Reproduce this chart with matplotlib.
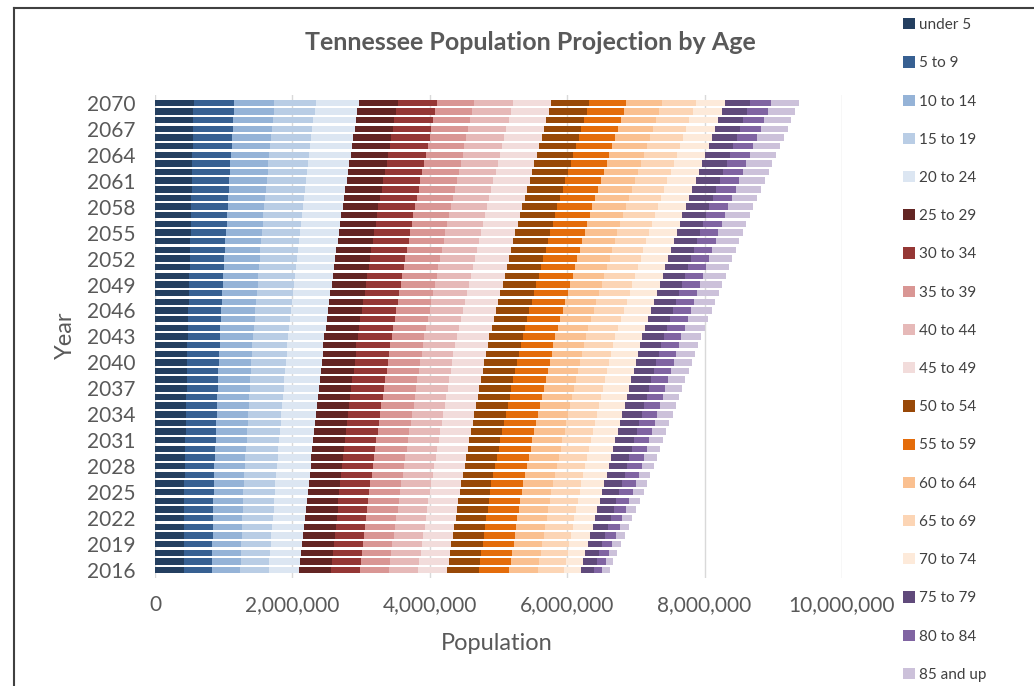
import matplotlib
matplotlib.use("Agg")
import matplotlib.pyplot as plt
from matplotlib.lines import Line2D
from matplotlib.ticker import FuncFormatter

plt.rcParams['font.family'] = ['Lato', 'DejaVu Sans']

years = list(range(2016, 2071))
age_groups = ["under 5", "5 to 9", "10 to 14", "15 to 19", "20 to 24",
              "25 to 29", "30 to 34", "35 to 39", "40 to 44", "45 to 49",
              "50 to 54", "55 to 59", "60 to 64", "65 to 69", "70 to 74",
              "75 to 79", "80 to 84", "85 and up"]
colors = ["#243F60", "#376092", "#95B3D7", "#B9CDE5", "#DCE6F2",
          "#632523", "#953735", "#D99694", "#E6B9B8", "#F2DCDB",
          "#984807", "#E46C0A", "#FAC090", "#FCD5B5", "#FDEADA",
          "#604A7B", "#8064A2", "#CCC1DA"]

# population in thousands, 2016 .. 2070
under_5 = [419,420,421,422,423,424,425,426,427,428,429,
           432,435,437,440,443,446,448,451,454,457,459,462,465,468,470,473,476,
           479,483,486,490,493,497,500,503,507,510,514,517,521,524,
           527,530,533,536,539,542,545,548,551,554,557,560,563]
age_5_9 = [408,410,412,413,415,417,419,421,422,424,426,
           429,431,434,436,439,441,444,446,449,451,454,456,459,461,464,466,469,
           473,477,481,485,489,493,497,500,504,508,512,516,520,524,
           529,535,540,546,551,556,562,567,572,578,583,589,594]
age_10_14 = [413,415,418,420,423,425,427,430,432,435,437,
             440,442,445,448,450,453,456,459,461,464,467,469,472,475,478,480,483,
             486,490,493,496,500,503,506,510,513,517,520,523,527,530,
             534,538,542,546,550,554,558,562,566,570,574,578,582]
age_15_19 = [416,421,425,430,434,439,443,448,452,457,461,
             464,467,469,472,475,478,481,484,486,489,492,495,498,501,503,506,509,
             512,516,519,523,526,530,533,536,540,543,547,550,554,557,
             560,564,567,570,574,577,580,583,587,590,593,597,600]
age_20_24 = [447,451,455,458,462,466,470,474,477,481,485,
             488,490,493,496,498,501,504,506,509,512,514,517,520,522,525,527,530,
             533,537,540,543,546,550,553,556,560,563,566,569,573,576,
             580,584,588,591,595,599,603,607,611,614,618,622,626]
age_25_29 = [466,465,464,463,462,462,461,460,459,458,457,
             459,460,462,463,465,466,468,469,471,472,474,475,477,478,480,481,483,
             486,488,491,493,496,498,501,503,506,508,511,513,516,518,
             522,526,530,534,538,542,546,549,553,557,561,565,569]
age_30_34 = [418,420,422,424,426,428,429,431,433,435,437,
             440,444,447,450,453,457,460,463,467,470,473,476,480,483,486,490,493,
             496,498,501,503,506,508,511,513,516,518,521,523,526,528,
             531,535,538,541,545,548,551,554,558,561,564,568,571]
age_35_39 = [416,420,423,427,430,434,437,441,444,448,451,
             453,454,456,458,459,461,463,464,466,468,469,471,473,474,476,477,479,
             482,485,487,490,493,496,499,501,504,507,510,513,515,518,
             520,522,524,526,528,530,532,534,536,538,540,542,544]
age_40_44 = [422,424,425,427,428,430,431,433,434,436,437,
             439,441,442,444,446,448,449,451,453,455,456,458,460,462,463,465,467,
             471,475,479,483,487,491,495,500,504,508,512,516,520,524,
             527,530,533,536,539,542,545,548,551,554,557,560,563]
age_45_49 = [428,429,430,431,432,433,433,434,435,436,437,
             439,442,444,447,449,452,454,457,459,462,464,467,469,472,474,477,479,
             481,484,486,488,491,493,496,498,500,503,505,507,510,512,
             515,519,522,526,529,533,536,540,543,547,550,554,557]
age_50_54 = [460,458,455,453,451,449,446,444,442,439,437,
             440,442,445,448,450,453,456,459,461,464,467,469,472,475,478,480,483,
             485,486,488,490,492,493,495,497,498,500,502,503,505,507,
             510,514,517,521,524,528,531,535,538,542,545,549,552]
age_55_59 = [447,448,450,451,452,454,455,456,457,459,460,
             461,462,463,464,465,466,467,468,469,470,471,472,473,474,475,476,477,
             479,481,483,486,488,490,492,494,496,498,501,503,505,507,
             510,512,515,517,520,522,525,527,530,532,535,537,540]
age_60_64 = [408,411,414,417,420,423,425,428,431,434,437,
             437,438,438,438,438,439,439,439,440,440,440,440,441,441,441,442,442,
             445,448,451,454,457,460,463,465,468,471,474,477,480,483,
             485,488,490,493,495,497,500,502,505,507,509,512,514]
age_65_69 = [386,389,391,394,397,400,402,405,408,410,413,
             414,415,416,417,418,419,420,421,423,424,425,426,427,428,429,430,431,
             434,436,439,441,444,446,449,451,454,456,459,461,464,466,
             468,471,473,475,478,480,482,484,487,489,491,494,496]
age_70_74 = [240,250,260,270,280,290,299,309,319,329,339,
             342,345,348,351,355,358,361,364,367,370,373,376,380,383,386,389,392,
             393,394,394,395,396,397,398,398,399,400,401,402,402,403,
             405,407,409,411,413,415,417,419,421,423,425,427,429]
age_75_79 = [189,196,203,210,217,224,230,237,244,251,258,
             261,264,267,270,274,277,280,283,286,289,292,295,299,302,305,308,311,
             313,316,318,321,323,326,328,330,333,335,338,340,343,345,
             347,348,350,352,353,355,357,359,360,362,364,365,367]
age_80_84 = [124,132,140,148,156,164,172,180,188,196,204,
             207,210,214,217,220,223,227,230,233,236,240,243,246,249,253,256,259,
             260,261,262,262,263,264,265,266,267,268,268,269,270,271,
             274,276,279,282,284,287,290,293,295,298,301,303,306]
age_85_up = [109,114,119,124,129,135,140,145,150,155,160,
             167,175,182,190,197,205,212,220,227,235,242,250,257,265,272,280,287,
             292,298,303,308,314,319,325,330,335,341,346,351,357,362,
             365,368,371,374,377,380,382,385,388,391,394,397,400]

series = [under_5, age_5_9, age_10_14, age_15_19, age_20_24, age_25_29,
          age_30_34, age_35_39, age_40_44, age_45_49, age_50_54, age_55_59,
          age_60_64, age_65_69, age_70_74, age_75_79, age_80_84, age_85_up]

gray = "#595959"
fig = plt.figure(figsize=(10.34, 6.86), dpi=100)
ax = fig.add_axes([0.1499, 0.1574, 0.6644, 0.7041])

ypos = list(range(len(years)))
left = [0] * len(years)
handles = []
for name, vals, c in zip(age_groups, series, colors):
    w = [v * 1000 for v in vals]
    b = ax.barh(ypos, w, left=left, height=0.74, color=c, label=name, zorder=2)
    handles.append(b)
    left = [l + v for l, v in zip(left, w)]

ax.set_xlim(0, 10000000)
ax.set_ylim(-0.92, 54.9)
ax.set_xticks(range(0, 10000001, 2000000))
ax.xaxis.set_major_formatter(FuncFormatter(lambda v, p: f"{int(v):,}"))
ax.set_yticks(ypos[::3])
ax.set_yticklabels([str(y) for y in years[::3]])
ax.grid(axis='x', color="#D9D9D9", linewidth=1, zorder=0)
ax.set_axisbelow(True)
for s in ax.spines.values():
    s.set_visible(False)
ax.tick_params(axis='both', length=0, colors=gray, labelsize=15)
ax.tick_params(axis='y', pad=14)
ax.tick_params(axis='x', pad=12)

fig.text(0.5126, 1 - 42 / 686, "Tennessee Population Projection by Age",
         ha='center', va='center', fontsize=18, fontweight='bold', color=gray)
fig.text(65 / 1034, 1 - 335 / 686, "Year", rotation=90, ha='center',
         va='center', fontsize=17, color=gray)
fig.text(497 / 1034, 1 - 643 / 686, "Population", ha='center', va='center',
         fontsize=17, color=gray)

leg = fig.legend(handles=handles, labels=age_groups, loc='upper left',
                 bbox_to_anchor=(897 / 1034, 1 - 12 / 686), frameon=False,
                 fontsize=11, handlelength=0.75, handleheight=0.75,
                 handletextpad=0.3, labelspacing=1.585, borderaxespad=0)
for t in leg.get_texts():
    t.set_color("#404040")

# outer chart frame
fig.add_artist(Line2D([14 / 1034, 14 / 1034], [0, 1 - 8 / 686],
                      transform=fig.transFigure, color="#404040", lw=1.5))
fig.add_artist(Line2D([14 / 1034, 1], [1 - 8 / 686, 1 - 8 / 686],
                      transform=fig.transFigure, color="#404040", lw=1.5))

fig.savefig("out.png", dpi=100)
